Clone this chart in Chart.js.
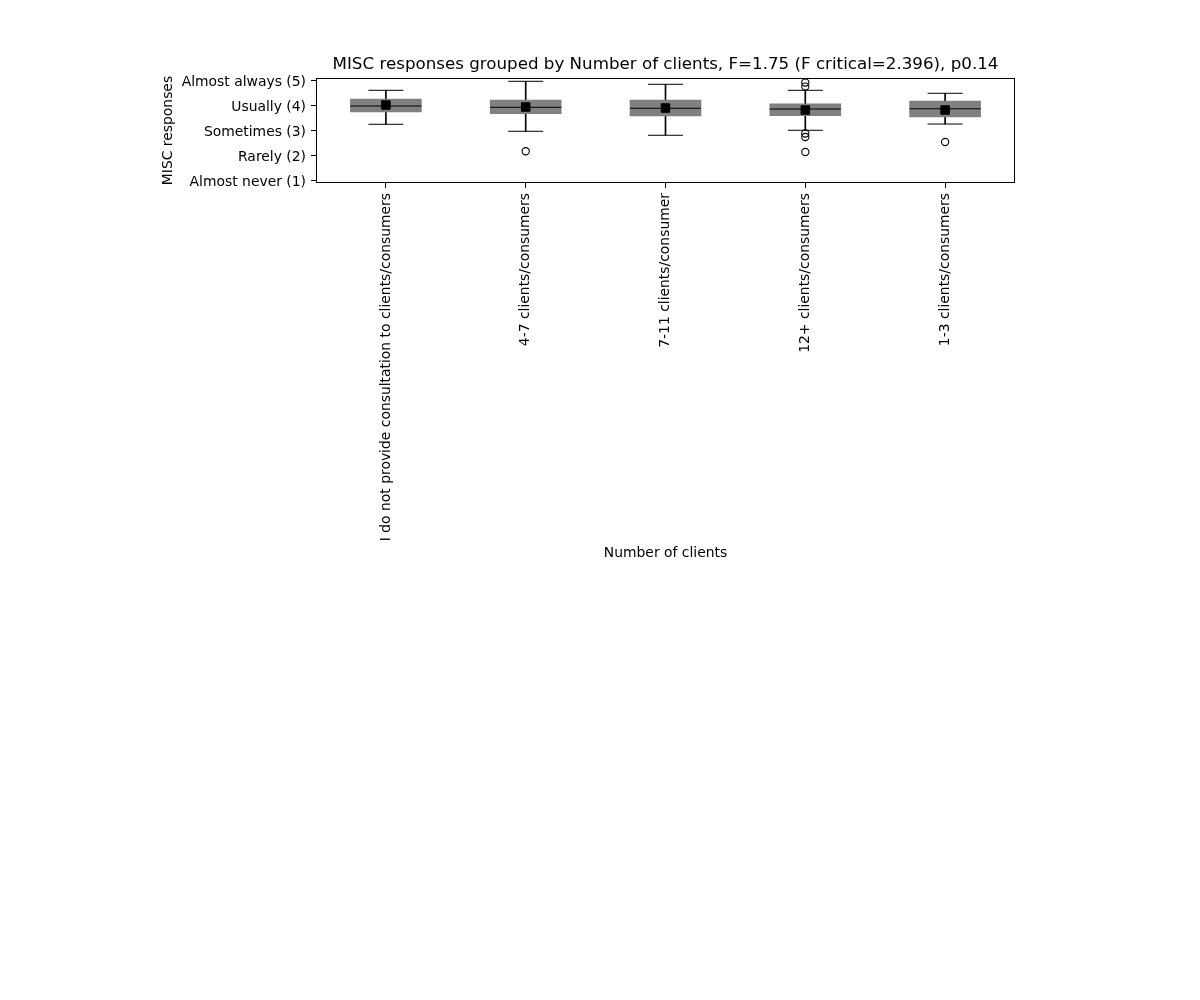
<!DOCTYPE html>
<html>
<head>
<meta charset="utf-8">
<script src="https://cdn.jsdelivr.net/npm/chart.js@4"></script>
<style>
  html, body { margin: 0; padding: 0; background: #ffffff; }
  #wrap { position: relative; width: 1200px; height: 1000px; }
</style>
</head>
<body>
<div id="wrap"><canvas id="c" width="1200" height="1000"></canvas></div>
<script>
// ---- Data ----
const categories = [
  'I do not provide consultation to clients/consumers',
  '4-7 clients/consumers',
  '7-11 clients/consumer',
  '12+ clients/consumers',
  '1-3 clients/consumers'
];
const q1 = [3.72, 3.65, 3.56, 3.57, 3.52];
const q3 = [4.24, 4.20, 4.20, 4.05, 4.16];
const medians = [3.96, 3.91, 3.87, 3.84, 3.85];
const means = [4.00, 3.92, 3.88, 3.80, 3.80];
const whiskerLow = [3.23, 2.95, 2.79, 2.99, 3.24];
const whiskerHigh = [4.59, 4.95, 4.83, 4.59, 4.47];
const outliers = [[], [2.15], [], [4.90, 4.74, 2.86, 2.72, 2.12], [2.52]];
const yTickValues = [1, 2, 3, 4, 5];
const yTickLabels = ['Almost never (1)', 'Rarely (2)', 'Sometimes (3)', 'Usually (4)', 'Almost always (5)'];
const titleText = 'MISC responses grouped by Number of clients, F=1.75 (F critical=2.396), p0.14';
const xTitle = 'Number of clients';
const yTitle = 'MISC responses';

// ---- Build datasets ----
const pts = (arr) => arr.map((v, i) => ({ x: categories[i], y: v }));
const capPts = whiskerLow.map((v, i) => ({ x: categories[i], y: v }))
  .concat(whiskerHigh.map((v, i) => ({ x: categories[i], y: v })));
const outlierPts = [];
outliers.forEach((list, i) => list.forEach(v => outlierPts.push({ x: categories[i], y: v })));

const FONT = 'DejaVu Sans';
const TICK_SIZE = 13.9;
const TITLE_SIZE = 16.7;

const framePlugin = {
  id: 'frame',
  afterLayout(chart) {
    // centre the title over the plotting area, like the reference
    const t = chart.titleBlock;
    if (t) {
      t.left = chart.chartArea.left;
      t.right = chart.chartArea.right;
      t.width = t.right - t.left;
    }
  },
  afterDatasetsDraw(chart) {
    const { ctx, chartArea: a } = chart;
    ctx.save();
    ctx.strokeStyle = '#000';
    ctx.lineWidth = 1;
    ctx.strokeRect(Math.round(a.left) + 0.5, Math.round(a.top) + 0.5,
      Math.round(a.right - a.left) - 1, Math.round(a.bottom - a.top) - 1);
    ctx.restore();
  }
};

new Chart(document.getElementById('c'), {
  type: 'bar',
  data: {
    labels: categories,
    datasets: [
      {
        type: 'bar', label: 'whiskers',
        data: whiskerLow.map((v, i) => [v, whiskerHigh[i]]),
        backgroundColor: '#000', borderWidth: 0,
        barThickness: 1, grouped: false, order: 6
      },
      {
        type: 'bar', label: 'box',
        data: q1.map((v, i) => [v, q3[i]]),
        backgroundColor: '#808080', borderWidth: 0,
        barThickness: 71, grouped: false, order: 5
      },
      {
        type: 'line', label: 'caps', data: capPts, showLine: false,
        pointStyle: 'line', pointRadius: 17.5, pointBorderColor: '#000',
        pointBorderWidth: 1, pointHoverRadius: 17.5, order: 4
      },
      {
        type: 'line', label: 'median', data: pts(medians), showLine: false,
        pointStyle: 'line', pointRadius: 35.5, pointBorderColor: '#000',
        pointBorderWidth: 1, pointHoverRadius: 35.5, order: 3
      },
      {
        type: 'line', label: 'mean', data: pts(means), showLine: false,
        pointStyle: 'rect', pointRadius: 6, pointBackgroundColor: '#000',
        pointBorderColor: '#000', pointBorderWidth: 1, order: 2
      },
      {
        type: 'line', label: 'outliers', data: outlierPts, showLine: false,
        pointStyle: 'circle', pointRadius: 3.6, pointBackgroundColor: 'rgba(0,0,0,0)',
        pointBorderColor: '#000', pointBorderWidth: 1.1, order: 1
      }
    ]
  },
  options: {
    responsive: false,
    animation: false,
    events: [],
    layout: { padding: { top: 55, left: 160, right: 185, bottom: 438 } },
    plugins: {
      legend: { display: false },
      tooltip: { enabled: false },
      title: {
        display: true, text: titleText, color: '#000',
        font: { family: FONT, size: TITLE_SIZE, weight: 'normal', lineHeight: 1.2 },
        padding: { top: 0, bottom: 3 }
      }
    },
    scales: {
      x: {
        type: 'category',
        offset: true,
        afterFit(scale) { scale.height = 379; },
        grid: { display: true, offset: false, drawOnChartArea: false, tickLength: 5, color: '#000', tickColor: '#000' },
        border: { display: false },
        ticks: {
          color: '#000', minRotation: 90, maxRotation: 90, autoSkip: false,
          font: { family: FONT, size: TICK_SIZE }, padding: 5
        },
        title: { display: true, text: xTitle, color: '#000', font: { family: FONT, size: TICK_SIZE }, padding: { top: 4, bottom: 0 } }
      },
      y: {
        type: 'linear', min: 0.88, max: 5.08,
        afterFit(scale) { scale.width = 156; },
        afterBuildTicks(scale) { scale.ticks = yTickValues.map(v => ({ value: v })); },
        grid: { display: true, drawOnChartArea: false, tickLength: 5, color: '#000', tickColor: '#000' },
        border: { display: false },
        ticks: {
          color: '#000', font: { family: FONT, size: TICK_SIZE }, padding: 5, labelOffset: 2,
          callback: (v) => { const k = yTickValues.indexOf(v); return k >= 0 ? yTickLabels[k] : ''; }
        },
        title: { display: true, text: yTitle, color: '#000', font: { family: FONT, size: TICK_SIZE }, padding: { top: 0, bottom: 4 } }
      }
    }
  },
  plugins: [framePlugin]
});
</script>
</body>
</html>
